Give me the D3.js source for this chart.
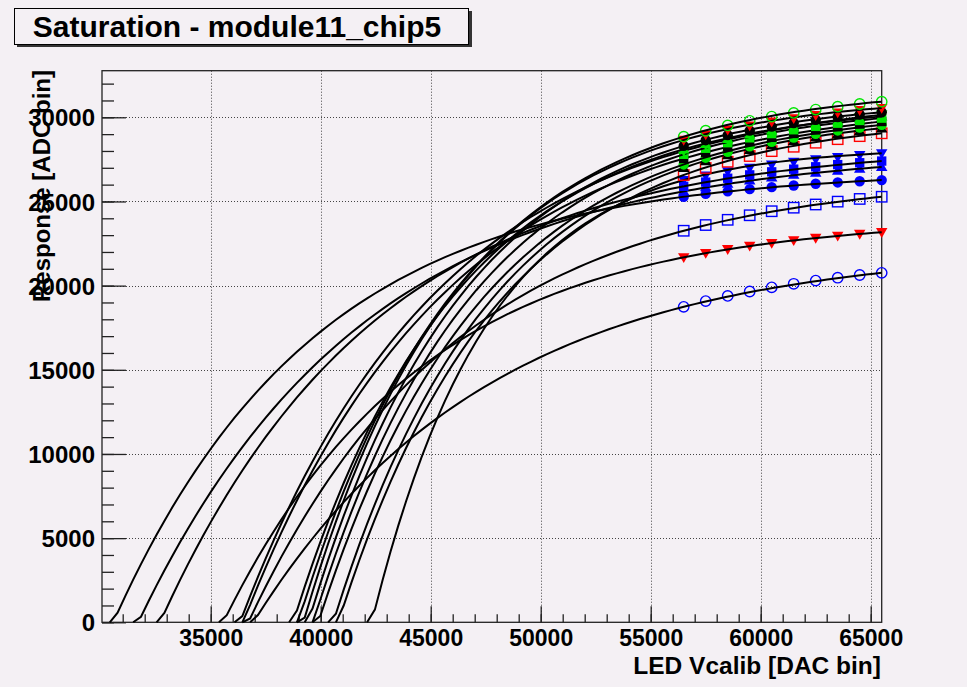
<!DOCTYPE html>
<html><head><meta charset="utf-8">
<script src="https://cdn.jsdelivr.net/npm/d3@7"></script>
<style>
html,body{margin:0;padding:0;background:#f4f0f4;}
svg{display:block;}
text{font-family:"Liberation Sans",Arial,Helvetica,sans-serif;font-weight:bold;fill:#000;}
</style></head><body>
<svg id="c" width="967" height="687"></svg>
<script>
// ---------------- data ----------------
const chartTitle = "Saturation - module11_chip5";
const xTitle = "LED Vcalib [DAC bin]";
const yTitle = "Response [ADC bin]";
const xTickValues = [35000, 40000, 45000, 50000, 55000, 60000, 65000];
const yTickValues = [0, 5000, 10000, 15000, 20000, 25000, 30000];
const xRange = [30059, 65500];
const yRange = [0, 32768];
const vcalib = [56500, 57500, 58500, 59500, 60500, 61500, 62500, 63500, 64500, 65500];

const seriesColor  = ["blue","red","blue","blue","blue","blue","blue","red","black","green","black","green","green","green","black","red","green"];
const seriesMarker = ["ocircle","tdown","osquare","circle","tup","square","tdown","osquare","tup","circle","square","square","tdown","tup","circle","tdown","ocircle"];
// Vcalib where each fitted curve crosses zero response
const zeroCrossing = [36940, 35570, 36710, 30570, 31710, 32700, 42320, 40800, 40570, 39890, 36480, 39660, 36330, 38750, 39440, 39210, 38980];
const responses = [
  [18740, 19080, 19390, 19650, 19900, 20110, 20300, 20470, 20630, 20760],
  [21680, 21930, 22160, 22360, 22530, 22690, 22830, 22960, 23070, 23170],
  [23260, 23600, 23910, 24180, 24420, 24630, 24820, 24990, 25150, 25280],
  [25280, 25450, 25600, 25730, 25850, 25950, 26050, 26130, 26200, 26270],
  [25600, 25850, 26060, 26260, 26430, 26590, 26720, 26840, 26950, 27050],
  [25900, 26150, 26380, 26580, 26760, 26920, 27060, 27190, 27300, 27400],
  [26270, 26540, 26780, 26990, 27180, 27350, 27500, 27630, 27750, 27860],
  [26570, 26990, 27360, 27700, 27990, 28250, 28490, 28700, 28880, 29050],
  [27000, 27400, 27750, 28070, 28350, 28600, 28820, 29020, 29190, 29350],
  [27200, 27600, 27950, 28270, 28550, 28800, 29020, 29220, 29390, 29550],
  [27550, 27920, 28250, 28550, 28810, 29040, 29250, 29440, 29600, 29750],
  [27800, 28160, 28490, 28780, 29030, 29260, 29460, 29650, 29810, 29950],
  [28000, 28360, 28690, 28980, 29230, 29460, 29660, 29850, 30010, 30150],
  [28100, 28430, 28720, 28990, 29220, 29420, 29610, 29770, 29920, 30050],
  [28300, 28640, 28940, 29210, 29450, 29660, 29850, 30020, 30170, 30300],
  [28650, 28970, 29260, 29510, 29740, 29940, 30120, 30280, 30420, 30550],
  [28850, 29200, 29520, 29790, 30040, 30260, 30460, 30630, 30790, 30930]
];

// ---------------- layout ----------------
const W = 967, H = 687;
const frame = {left: 102, right: 881.7, top: 70.7, bottom: 622.3};
const colorMap = {blue: "#0000ff", red: "#ff0000", green: "#00e600", black: "#000000"};

const svg = d3.select("#c");
svg.append("rect").attr("width", W).attr("height", H).attr("fill", "#f4f0f4");

const x = d3.scaleLinear().domain(xRange).range([frame.left, frame.right]);
const y = d3.scaleLinear().domain(yRange).range([frame.bottom, frame.top]);

// grid
const grid = svg.append("g").attr("stroke", "#444").attr("stroke-width", 1).attr("stroke-dasharray", "1,2");
xTickValues.forEach(v => grid.append("line").attr("x1", Math.round(x(v)) + 0.5).attr("x2", Math.round(x(v)) + 0.5)
  .attr("y1", frame.top).attr("y2", frame.bottom));
yTickValues.filter(v => v > 0).forEach(v => grid.append("line").attr("y1", Math.round(y(v)) + 0.5).attr("y2", Math.round(y(v)) + 0.5)
  .attr("x1", frame.left).attr("x2", frame.right));

// frame
svg.append("rect").attr("x", frame.left).attr("y", frame.top)
  .attr("width", frame.right - frame.left).attr("height", frame.bottom - frame.top)
  .attr("fill", "none").attr("stroke", "#222").attr("stroke-width", 1.3);

// axes via d3
const xMinor = d3.range(31000, 65501, 1000);
const yMinor = d3.range(0, 32001, 1000);
const xAxisMinor = d3.axisTop(x).tickValues(xMinor).tickSize(8).tickFormat("");
const xAxisMajor = d3.axisTop(x).tickValues(xTickValues).tickSize(16).tickFormat("");
const gxm = svg.append("g").attr("transform", `translate(0,${frame.bottom})`).call(xAxisMinor);
const gxM = svg.append("g").attr("transform", `translate(0,${frame.bottom})`).call(xAxisMajor);
[gxm, gxM].forEach(g => { g.select(".domain").remove(); g.selectAll("line").attr("stroke", "#222").attr("stroke-width", 1.3); });

const yAxisMinor = d3.axisRight(y).tickValues(yMinor).tickSize(12).tickFormat("");
const yAxisMajor = d3.axisRight(y).tickValues(yTickValues).tickSize(24).tickFormat("");
const gym = svg.append("g").attr("transform", `translate(${frame.left},0)`).call(yAxisMinor);
const gyM = svg.append("g").attr("transform", `translate(${frame.left},0)`).call(yAxisMajor);
[gym, gyM].forEach(g => { g.select(".domain").remove(); g.selectAll("line").attr("stroke", "#222").attr("stroke-width", 1.3); });

// tick labels
const xl = d3.axisBottom(x).tickValues(xTickValues).tickSize(0).tickPadding(0).tickFormat(d3.format("d"));
const gxl = svg.append("g").attr("transform", `translate(0,${frame.bottom})`).call(xl);
gxl.select(".domain").remove();
gxl.selectAll("text").attr("font-size", 23).attr("font-family", "Liberation Sans, Arial, sans-serif")
  .attr("font-weight", "bold").attr("fill", "#000").attr("dy", null).attr("y", 24);

const yl = d3.axisLeft(y).tickValues(yTickValues).tickSize(0).tickPadding(0).tickFormat(d3.format("d"));
const gyl = svg.append("g").attr("transform", `translate(95,0)`).call(yl);
gyl.select(".domain").remove();
gyl.selectAll("text").attr("font-size", 24).attr("font-family", "Liberation Sans, Arial, sans-serif")
  .attr("font-weight", "bold").attr("fill", "#000").attr("x", 0).attr("dy", "0.36em");

// axis titles
svg.append("text").attr("x", 881).attr("y", 674).attr("text-anchor", "end").attr("font-size", 24.5).text(xTitle);
svg.append("text").attr("transform", "translate(50,70) rotate(-90)").attr("text-anchor", "end").attr("font-size", 24).text(yTitle);

// fit curve: A*(1-exp(-(v-x0)/tau)) anchored on zero crossing, first and last points
function fitCurve(x0, pts) {
  const [x1, y1] = pts[0], [x2, y2] = pts[pts.length - 1];
  const d1 = x1 - x0, d2 = x2 - x0, q = y2 / y1;
  const g = t => (1 - Math.exp(-d2 / t)) / (1 - Math.exp(-d1 / t)) - q;
  let lo = 50, hi = 1e7;
  for (let i = 0; i < 200; i++) { const m = (lo + hi) / 2; if (g(m) > 0) hi = m; else lo = m; }
  const tau = (lo + hi) / 2, A = y2 / (1 - Math.exp(-d2 / tau));
  return v => A * (1 - Math.exp(-(v - x0) / tau));
}

const line = d3.line().x(d => x(d[0])).y(d => y(d[1]));
const plot = svg.append("g");

function drawMarker(g, type, cx, cy, col) {
  const s = 5.2;
  if (type === "ocircle") g.append("circle").attr("cx", cx).attr("cy", cy).attr("r", s).attr("fill", "none").attr("stroke", col).attr("stroke-width", 1.4);
  else if (type === "circle") g.append("circle").attr("cx", cx).attr("cy", cy).attr("r", s).attr("fill", col);
  else if (type === "osquare") g.append("rect").attr("x", cx - s).attr("y", cy - s).attr("width", 2 * s).attr("height", 2 * s).attr("fill", "none").attr("stroke", col).attr("stroke-width", 1.4);
  else if (type === "square") g.append("rect").attr("x", cx - s * 0.9).attr("y", cy - s * 0.9).attr("width", 1.8 * s).attr("height", 1.8 * s).attr("fill", col);
  else if (type === "tdown") g.append("path").attr("d", `M${cx - s * 1.1},${cy - s * 0.8}L${cx + s * 1.1},${cy - s * 0.8}L${cx},${cy + s * 1.1}Z`).attr("fill", col);
  else if (type === "tup") g.append("path").attr("d", `M${cx - s * 1.1},${cy + s * 0.8}L${cx + s * 1.1},${cy + s * 0.8}L${cx},${cy - s * 1.1}Z`).attr("fill", col);
}

responses.forEach((vals, i) => {
  const pts = vcalib.map((v, k) => [v, vals[k]]);
  const col = colorMap[seriesColor[i]];
  const g = plot.append("g");
  pts.forEach(p => drawMarker(g, seriesMarker[i], x(p[0]), y(p[1]), col));
  const f = fitCurve(zeroCrossing[i], pts);
  const npx = 100, xs = [];
  const lo = xRange[0], hi = vcalib[vcalib.length - 1];
  for (let k = 0; k <= npx; k++) xs.push(lo + (hi - lo) * k / npx);
  let samples = xs.map(v => [v, Math.max(0, Math.min(yRange[1], f(v)))]);
  let firstPos = samples.findIndex(d => d[1] > 0);
  samples = samples.slice(Math.max(0, firstPos - 1));
  g.append("path").attr("d", line(samples)).attr("fill", "none").attr("stroke", "#000").attr("stroke-width", 2);
});

// title box
const tb = svg.append("g");
tb.append("rect").attr("x", 17).attr("y", 11).attr("width", 455).attr("height", 36).attr("fill", "#333");
tb.append("rect").attr("x", 14.5).attr("y", 8.5).attr("width", 454).attr("height", 36).attr("fill", "#f4f0f4").attr("stroke", "#000").attr("stroke-width", 1);
tb.append("text").attr("x", 237).attr("y", 37).attr("text-anchor", "middle").attr("font-size", 30).text(chartTitle);
</script>
</body></html>
